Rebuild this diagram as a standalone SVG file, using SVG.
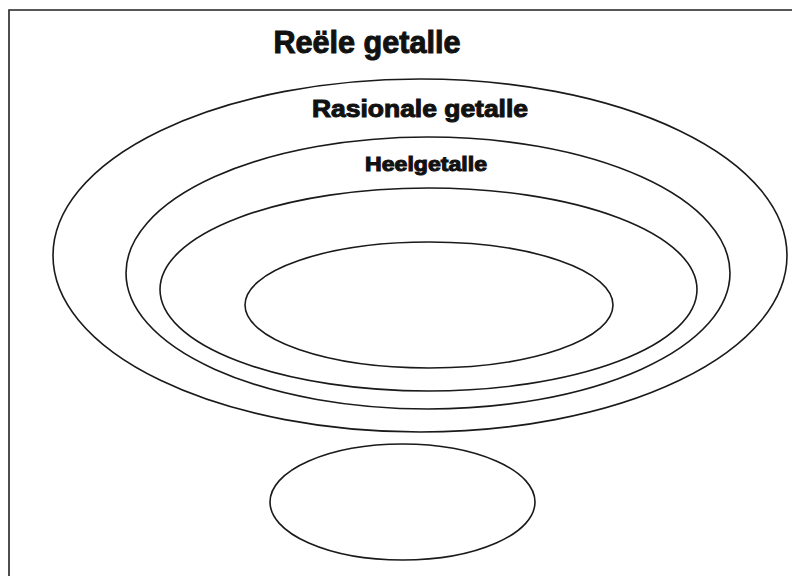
<svg xmlns="http://www.w3.org/2000/svg" width="792" height="576" viewBox="0 0 792 576">
<style>
.set{fill:none;stroke:#1a1a1a;stroke-width:1.6}
.lbl{font-family:"Liberation Sans",Arial,sans-serif;font-weight:bold;fill:#111;stroke:#111;stroke-width:1;text-anchor:middle}
.frame{fill:none;stroke:#222;stroke-width:1.6}
</style>
<rect width="792" height="576" fill="#fff"/>
<path class="frame" d="M9,576 V10 H792"/>
<g id="reele">
<text class="lbl" x="367" y="53" font-size="31" textLength="187" lengthAdjust="spacingAndGlyphs">Reële getalle</text>
</g>
<g id="rasionale">
<ellipse class="set" cx="420" cy="255.5" rx="367" ry="176.5"/>
<text class="lbl" x="420" y="117" font-size="23" textLength="216" lengthAdjust="spacingAndGlyphs">Rasionale getalle</text>
</g>
<g id="heelgetalle">
<ellipse class="set" cx="428" cy="273" rx="302" ry="136"/>
<text class="lbl" x="426" y="171" font-size="19.5" textLength="122" lengthAdjust="spacingAndGlyphs">Heelgetalle</text>
</g>
<g id="set3">
<ellipse class="set" cx="428.5" cy="289.5" rx="268.5" ry="101.5"/>
</g>
<g id="set4">
<ellipse class="set" cx="429" cy="305" rx="184" ry="63"/>
</g>
<g id="set5">
<ellipse class="set" cx="402.5" cy="502" rx="132.5" ry="58"/>
</g>
<g id="connectors"/>
</svg>
